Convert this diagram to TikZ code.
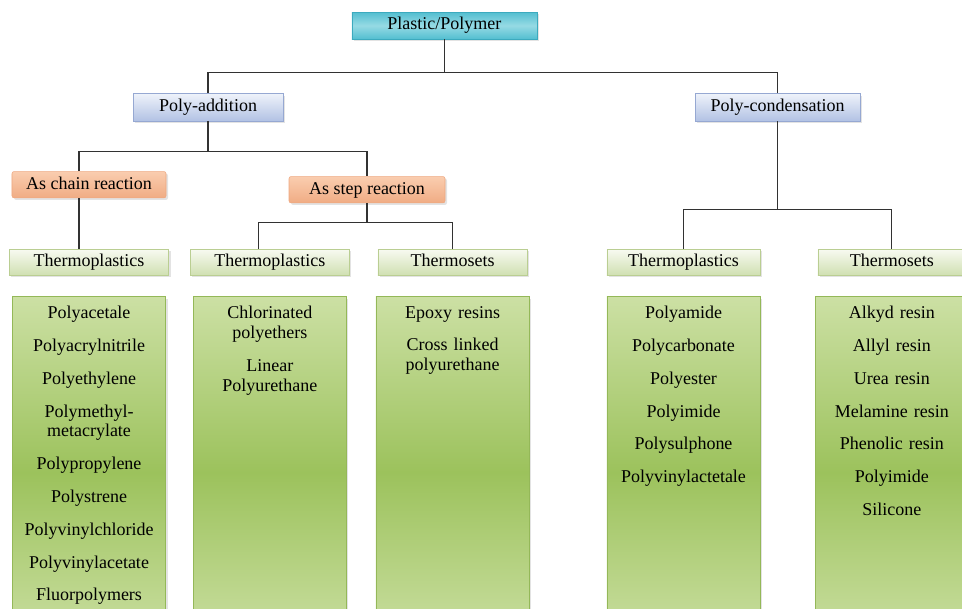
\documentclass[tikz,border=0pt]{standalone}
\usepackage{fontspec}
\setmainfont{Liberation Serif}
\usepackage{xcolor}
\usetikzlibrary{positioning, shadows}
\definecolor{linegray}{RGB}{50,50,50}
\definecolor{tealtop}{RGB}{82,190,208}
\definecolor{tealmid}{RGB}{150,218,228}
\definecolor{tealedge}{RGB}{60,170,190}
\definecolor{bluetop}{RGB}{238,242,250}
\definecolor{bluebot}{RGB}{178,194,228}
\definecolor{blueedge}{RGB}{150,168,210}
\definecolor{orangetop}{RGB}{250,205,175}
\definecolor{orangebot}{RGB}{240,172,132}
\definecolor{orangeedge}{RGB}{238,168,128}
\definecolor{leaftop}{RGB}{247,249,240}
\definecolor{leafbot}{RGB}{208,224,178}
\definecolor{leafedge}{RGB}{186,206,146}
\definecolor{listtop}{RGB}{204,224,164}
\definecolor{listmid}{RGB}{156,194,92}
\definecolor{listedge}{RGB}{148,184,88}
\tikzset{
    basebox/.style={rectangle, inner sep=0pt, minimum height=0.66cm, align=center, text height=1.9ex, text depth=0.55ex,
      font=\fontsize{12.8}{14.2}\selectfont,
      drop shadow={shadow xshift=0.05cm, shadow yshift=-0.05cm, opacity=0.22}},
    rootbox/.style={basebox, draw=tealedge, top color=tealtop, bottom color=tealtop, middle color=tealmid, minimum width=4.63cm, minimum height=0.68cm},
    typebox/.style={basebox, draw=blueedge, top color=bluetop, bottom color=bluebot, minimum height=0.68cm},
    reactbox/.style={basebox, draw=orangeedge, rounded corners=1.5pt, top color=orangetop, bottom color=orangebot},
    leafbox/.style={basebox, draw=leafedge, top color=leaftop, bottom color=leafbot, minimum height=0.64cm},
    listbox/.style={rectangle, draw=listedge, top color=listtop, bottom color=listtop, middle color=listmid, text width=3.55cm, inner xsep=0.14cm, inner ysep=0.24cm,
      align=center, text depth=8cm, font=\fontsize{12.8}{14.2}\selectfont,
      drop shadow={shadow xshift=0.05cm, shadow yshift=-0.05cm, opacity=0.22}},
    link/.style={draw=linegray, line width=0.9pt}
}

\begin{document}
\begin{tikzpicture}[node distance=0.5cm]
  \useasboundingbox (0,0) rectangle (24.05,-15.2);
  \clip (0,0) rectangle (24.05,-15.2);
  \node[rootbox] (root) at (11.11,-0.64) {Plastic/Polymer};
  \node[typebox, minimum width=3.75cm, below=1.35cm of root, xshift=-5.91cm] (addition) {Poly-addition};
  \node[typebox, minimum width=4.13cm, below=1.35cm of root, xshift=8.33cm] (condensation) {Poly-condensation};
  \node[reactbox, minimum width=3.85cm, below=1.25cm of addition, xshift=-2.975cm] (chainrx) {As chain reaction};
  \node[reactbox, minimum width=3.9cm, below=1.375cm of addition, xshift=3.975cm] (steprx) {As step reaction};
  % third row
  \node[leafbox, minimum width=3.98cm, below=1.275cm of chainrx] (tpchain) {Thermoplastics};
  \node[leafbox, minimum width=3.98cm, right=0.525cm of tpchain] (tpstep) {Thermoplastics};
  \node[leafbox, minimum width=3.73cm, right=0.7cm of tpstep] (tsstep) {Thermosets};
  \node[leafbox, minimum width=3.83cm, right=1.98cm of tsstep] (tpcond) {Thermoplastics};
  \node[leafbox, minimum width=3.7cm, right=1.43cm of tpcond] (tscond) {Thermosets};
  % lists
  \node[listbox, below=0.525cm of tpchain] (listtpchain) {Polyacetale\\[9.1pt] Polyacrylnitrile\\[9.1pt] Polyethylene\\[9.1pt] Polymethyl-\\metacrylate\\[9.1pt] Polypropylene\\[9.1pt] Polystrene\\[9.1pt] Polyvinylchloride\\[9.1pt] Polyvinylacetate\\[9.1pt] Fluorpolymers};
  \node[listbox, below=0.525cm of tpstep] (listtpstep) {Chlorinated\\polyethers\\[9.1pt] Linear\\Polyurethane};
  \node[listbox, below=0.525cm of tsstep] (listtsstep) {Epoxy resins\\[9.1pt] Cross linked\\polyurethane};
  \node[listbox, below=0.525cm of tpcond] (listtpcond) {Polyamide\\[9.1pt] Polycarbonate\\[9.1pt] Polyester\\[9.1pt] Polyimide\\[9.1pt] Polysulphone\\[9.1pt] Polyvinylactetale};
  \node[listbox, below=0.525cm of tscond] (listtscond) {Alkyd resin\\[9.1pt] Allyl resin\\[9.1pt] Urea resin\\[9.1pt] Melamine resin\\[9.1pt] Phenolic resin\\[9.1pt] Polyimide\\[9.1pt] Silicone};
  % connectors
  \draw[link] (root.south) -- ++(0,-0.825) -| (addition.north);
  \draw[link] (root.south) -- ++(0,-0.825) -| (condensation.north);
  \draw[link] (addition.south) -- ++(0,-0.75) -| ([xshift=-0.25cm]chainrx.north);
  \draw[link] (addition.south) -- ++(0,-0.75) -| (steprx.north);
  \draw[link] ([xshift=-0.25cm]chainrx.south) -- ([xshift=-0.25cm]chainrx.south |- tpchain.north);
  \draw[link] (steprx.south) -- ++(0,-0.475) -| ([xshift=-0.28cm]tpstep.north);
  \draw[link] (steprx.south) -- ++(0,-0.475) -| (tsstep.north);
  \draw[link] (condensation.south) -- ++(0,-2.2) -| (tpcond.north);
  \draw[link] (condensation.south) -- ++(0,-2.2) -| (tscond.north);
\end{tikzpicture}
\end{document}
